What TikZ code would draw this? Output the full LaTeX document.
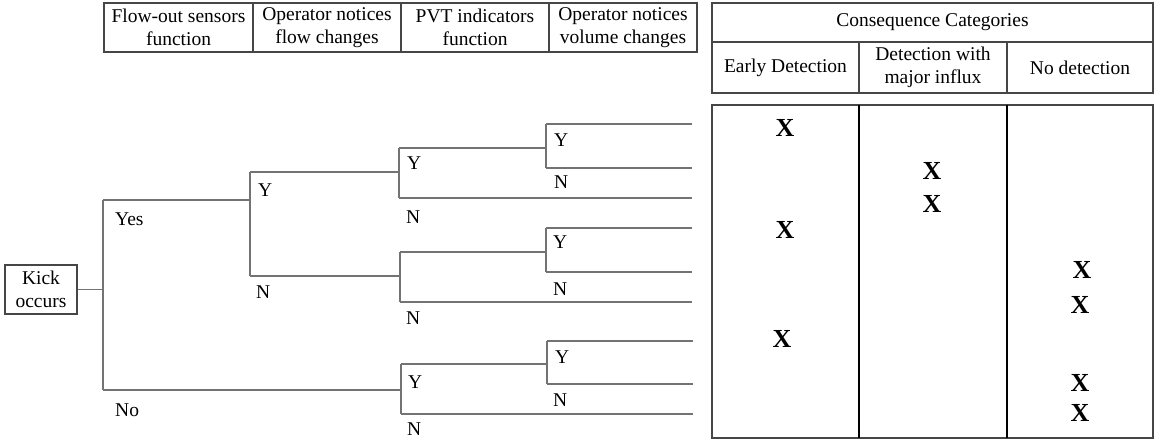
\documentclass[tikz,border=0pt]{standalone}
\usepackage{fontspec}
\setmainfont{Liberation Serif}
\definecolor{boxline}{RGB}{70,70,70}
\definecolor{treeline}{RGB}{115,115,115}
\begin{document}
\begin{tikzpicture}[x=1pt,y=-1pt,
  every node/.style={font=\fontsize{19.5}{23.5}\selectfont, inner sep=0pt},
  cell/.style={draw=boxline, line width=1.2pt, align=center},
  branch/.style={draw=treeline, line width=1.3pt},
  lbl/.style={anchor=west},
  xmk/.style={font=\fontsize{26}{26}\selectfont\bfseries},
  frame/.style={draw=boxline, line width=1.3pt},
  divider/.style={draw=black, line width=2pt}]
\useasboundingbox (0,0) rectangle (1155,441);

% event headings
\node[cell, minimum width=149pt, minimum height=49pt] (h1) at (178.5,27.5) {Flow-out sensors\\function};
\node[cell, minimum width=148pt, minimum height=49pt] (h2) at (327,27.5) {Operator notices\\flow changes};
\node[cell, minimum width=148pt, minimum height=49pt] (h3) at (475,27.5) {PVT indicators\\function};
\node[cell, minimum width=148pt, minimum height=49pt] (h4) at (623,27.5) {Operator notices\\volume changes};

% consequence heading
\node[cell, minimum width=441pt, minimum height=39pt] (cc) at (932.5,22.5) {Consequence Categories};
\node[cell, minimum width=147pt, minimum height=51pt] (c1) at (785.5,67.5) {Early Detection};
\node[cell, minimum width=148pt, minimum height=51pt] (c2) at (933,67.5) {Detection with\\major influx};
\node[cell, minimum width=146pt, minimum height=51pt] (c3) at (1080,67.5) {No detection};

% consequence table
\coordinate (tTL) at (712,105);
\coordinate (tBR) at (1153,438);
\coordinate (d1t) at (859,105);
\coordinate (d1b) at (859,438);
\coordinate (d2t) at (1007,105);
\coordinate (d2b) at (1007,438);
\draw[frame] (tTL) rectangle (tBR);
\draw[divider] (d1t) -- (d1b);
\draw[divider] (d2t) -- (d2b);

\node[xmk] (x1) at (785,128) {X};
\node[xmk] (x2) at (785,230) {X};
\node[xmk] (x3) at (782,339) {X};
\node[xmk] (x4) at (932,171) {X};
\node[xmk] (x5) at (932,204) {X};
\node[xmk] (x6) at (1082,270) {X};
\node[xmk] (x7) at (1080,305) {X};
\node[xmk] (x8) at (1080,383) {X};
\node[xmk] (x9) at (1080,413) {X};

% initiating event
\node[cell, minimum width=72pt, minimum height=49pt] (kick) at (41,289.5) {Kick\\occurs};

% event tree junctions
\coordinate (r) at (103,289.5);
\coordinate (rT) at (103,200);
\coordinate (rB) at (103,390);
\coordinate (a) at (250,200);
\coordinate (aT) at (250,172);
\coordinate (aB) at (250,276);
\coordinate (b1T) at (399,148);
\coordinate (b1B) at (399,198);
\coordinate (b1m) at (399,172);
\coordinate (b2T) at (400,252);
\coordinate (b2B) at (400,302);
\coordinate (b2m) at (400,276);
\coordinate (b3T) at (401,364);
\coordinate (b3B) at (401,414);
\coordinate (b3m) at (401,390);
\coordinate (e1T) at (546,124);
\coordinate (e1B) at (546,168);
\coordinate (e1m) at (546,148);
\coordinate (e2T) at (546,228);
\coordinate (e2B) at (546,272);
\coordinate (e2m) at (546,252);
\coordinate (e3T) at (547,341);
\coordinate (e3B) at (547,384);
\coordinate (e3m) at (547,364);
% leaf ends
\coordinate (l1) at (692,124);
\coordinate (l2) at (692,168);
\coordinate (l3) at (692,198);
\coordinate (l4) at (692,228);
\coordinate (l5) at (692,272);
\coordinate (l6) at (692,302);
\coordinate (l7) at (693,341);
\coordinate (l8) at (693,384);
\coordinate (l9) at (693,414);

% branches
\draw[branch] (kick.east) -- (r);
\draw[branch] (rT) -- (rB);
\draw[branch] (rT) -- (a);
\draw[branch] (aT) -- (aB);
\draw[branch] (aT) -- (b1m);
\draw[branch] (aB) -- (b2m);
\draw[branch] (rB) -- (b3m);
\draw[branch] (b1T) -- (b1B);
\draw[branch] (b2T) -- (b2B);
\draw[branch] (b3T) -- (b3B);
\draw[branch] (b1T) -- (e1m);
\draw[branch] (b2T) -- (e2m);
\draw[branch] (b3T) -- (e3m);
\draw[branch] (b1B) -- (l3);
\draw[branch] (b2B) -- (l6);
\draw[branch] (b3B) -- (l9);
\draw[branch] (e1T) -- (e1B);
\draw[branch] (e2T) -- (e2B);
\draw[branch] (e3T) -- (e3B);
\draw[branch] (e1T) -- (l1);
\draw[branch] (e1B) -- (l2);
\draw[branch] (e2T) -- (l4);
\draw[branch] (e2B) -- (l5);
\draw[branch] (e3T) -- (l7);
\draw[branch] (e3B) -- (l8);

% branch labels
\node[lbl] (yes) at (115,219) {Yes};
\node[lbl] (no) at (115,410) {No};
\node[lbl] (aY) at (258,190) {Y};
\node[lbl] (aN) at (256,292) {N};
\node[lbl] (b1Y) at (407,163) {Y};
\node[lbl] (b1N) at (406,217) {N};
\node[lbl] (b2N) at (406,318) {N};
\node[lbl] (b3Y) at (408,382) {Y};
\node[lbl] (b3N) at (407,429) {N};
\node[lbl] (e1Y) at (554,140) {Y};
\node[lbl] (e1N) at (554,182) {N};
\node[lbl] (e2Y) at (553,242) {Y};
\node[lbl] (e2N) at (553,289) {N};
\node[lbl] (e3Y) at (555,357) {Y};
\node[lbl] (e3N) at (553,400) {N};
\end{tikzpicture}
\end{document}
